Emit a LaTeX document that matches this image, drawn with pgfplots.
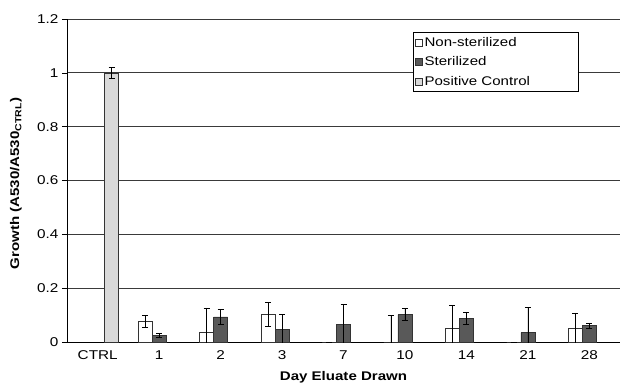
\documentclass[border=0pt]{standalone}
\usepackage{pgfplots}
\pgfplotsset{compat=1.18}
\usepackage{pgfplotstable}
\usepackage{fontspec}
\setmainfont[FakeStretch=1.2]{Liberation Sans}
\definecolor{darkbar}{HTML}{595959}
\definecolor{lightbar}{HTML}{D9D9D9}
\definecolor{gridc}{HTML}{3A3A3A}
\definecolor{edgec}{HTML}{333333}

% x: category index, y: value, e: error
\pgfplotstableread{
x y e
1 0.077 0.023
2 0.035 0.092
3 0.103 0.045
4 0 0
5 0 0.099
6 0.050 0.085
7 0 0
8 0.050 0.058
}\nonster
\pgfplotstableread{
x y e
1 0.025 0.007
2 0.093 0.027
3 0.047 0.056
4 0.066 0.073
5 0.102 0.022
6 0.087 0.023
7 0.035 0.093
8 0.061 0.010
}\ster
\pgfplotstableread{
x y e
0 1.000 0.019
}\posctrl

\begin{document}
\begin{tikzpicture}
\begin{axis}[
  name=ax,
  scale only axis,
  width=553bp, height=323bp,
  xmin=-0.5, xmax=8.5,
  ymin=0, ymax=1.2,
  axis x line*=bottom,
  axis y line*=left,
  axis line style={black, line width=0.8pt},
  ybar,
  bar width=0.228,
  xtick={0,...,8},
  xticklabels={CTRL,1,2,3,7,10,14,21,28},
  major x tick style={draw=none},
  extra x ticks={0.5,1.5,2.5,3.5,4.5,5.5,6.5,7.5,8.5},
  extra x tick labels={},
  extra x tick style={major tick length=5bp, tick style={black, line width=0.6pt}, tick align=outside, grid=none},
  ytick={0,0.2,0.4,0.6,0.8,1,1.2},
  yticklabels={0,0.2,0.4,0.6,0.8,1,1.2},
  ytick align=outside,
  major tick length=5bp,
  ymajorgrids,
  grid style={gridc, line width=0.8pt},
  tick style={black, line width=0.6pt},
  ticklabel style={font=\fontsize{12.8}{14}\selectfont},
  /pgf/number format/assume math mode=true,
  xlabel={\textbf{Day Eluate Drawn}},
  ylabel={\textbf{Growth (A530/A530\textsubscript{CTRL})}},
  label style={font=\fontsize{12.6}{14}\selectfont},
  xlabel style={at={(axis description cs:0.5,0)}, anchor=center, yshift=-35bp},
  ylabel style={at={(axis description cs:0,0.5)}, anchor=center, yshift=51bp, xshift=-3bp},
  legend cell align=left,
  legend style={at={(0.626,0.961)}, anchor=north west, draw=black, line width=0.8pt, fill=white,
    font=\fontsize{12.6}{14}\selectfont, inner xsep=1.5bp, inner ysep=3bp, row sep=5bp},
  legend image code/.code={\draw[#1, line width=0.5pt] (0bp,-3.5bp) rectangle (7bp,3.5bp);},
  error bars/error bar style={black, line width=0.6pt},
  error bars/error mark options={black, line width=0.6pt, mark size=3bp, rotate=90},
]
\addplot[fill=white, draw=edgec, line width=0.6pt, bar shift=-0.228,
  error bars/.cd, y dir=both, y explicit]
  table[x=x, y=y, y error=e]{\nonster};
\addlegendentry{\makebox[150bp][l]{Non-sterilized}}
\addplot[fill=darkbar, draw=edgec, line width=0.6pt, bar shift=0,
  error bars/.cd, y dir=both, y explicit]
  table[x=x, y=y, y error=e]{\ster};
\addlegendentry{\makebox[150bp][l]{Sterilized}}
\addplot[fill=lightbar, draw=edgec, line width=0.6pt, bar shift=0.228,
  error bars/.cd, y dir=both, y explicit]
  table[x=x, y=y, y error=e]{\posctrl};
\addlegendentry{\makebox[150bp][l]{Positive Control}}
\end{axis}
\pgfresetboundingbox
\path ([xshift=-67bp,yshift=-41bp]ax.south west) rectangle ([yshift=19bp]ax.north east);
\end{tikzpicture}
\end{document}
